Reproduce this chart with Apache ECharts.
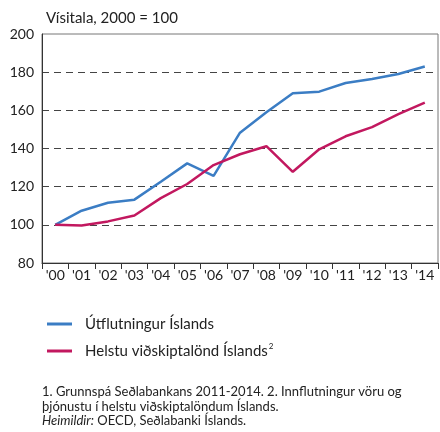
<!DOCTYPE html>
<html>
<head>
<meta charset="utf-8">
<script src="https://cdn.jsdelivr.net/npm/echarts@6/dist/echarts.min.js"></script>
<style>
  html, body { margin: 0; padding: 0; background: #fff; }
  #main { width: 440px; height: 432px; }
</style>
</head>
<body>
<div id="main"></div>
<script>
// ár og vísitölur lesnar af myndinni
var years = ["'00", "'01", "'02", "'03", "'04", "'05", "'06", "'07", "'08", "'09", "'10", "'11", "'12", "'13", "'14"];
var utflutningur = [100, 107.4, 111.6, 113.2, 122.6, 132.2, 125.7, 148.3, 159, 169, 169.8, 174.3, 176.4, 179, 183];
var vidskiptalond = [100, 99.6, 101.8, 104.9, 114, 121.4, 131.3, 137, 141.2, 127.8, 139.6, 146.4, 151.2, 158, 164];
var seriesNames = ['Útflutningur Íslands', 'Helstu viðskiptalönd Íslands'];

var font = 'Lato';
var textColor = '#222';

var myChart = echarts.init(document.getElementById('main'));

var option = {
    animation: false,
    textStyle: { fontFamily: font, color: textColor },
    title: {
        text: 'Vísitala, 2000 = 100',
        left: 41,
        top: 6,
        textStyle: { fontFamily: font, fontSize: 15, fontWeight: 'normal', color: textColor }
    },
    grid: {
        left: 42,
        right: 2,
        top: 34,
        bottom: 169,
        show: true,
        borderColor: '#777',
        borderWidth: 1
    },
    legend: {
        orient: 'vertical',
        left: 42,
        top: 310,
        icon: 'rect',
        itemWidth: 25,
        itemHeight: 3,
        itemGap: 9,
        textStyle: {
            fontFamily: font, fontSize: 15, color: textColor, padding: [0, 0, 0, 8], lineHeight: 18,
            rich: {
                t: { fontFamily: font, fontSize: 15, color: textColor, lineHeight: 18 },
                s: { fontFamily: font, fontSize: 8, color: textColor, verticalAlign: 'top', padding: [0, 0, 9, 1] }
            }
        },
        formatter: function (name) {
            if (name === seriesNames[1]) return '{t|' + name + '}{s|2}';
            return '{t|' + name + '}';
        }
    },
    xAxis: {
        type: 'category',
        data: years,
        boundaryGap: true,
        axisLine: { lineStyle: { color: '#333', width: 1 } },
        axisTick: { show: true, length: 6, lineStyle: { color: '#333' } },
        axisLabel: { interval: 0, fontFamily: font, fontSize: 14, color: textColor, margin: 5 }
    },
    yAxis: {
        type: 'value',
        min: 80,
        max: 200,
        interval: 20,
        axisLine: { show: true, lineStyle: { color: '#333', width: 1 } },
        axisTick: { show: false },
        axisLabel: { fontFamily: font, fontSize: 14, color: textColor, margin: 8 },
        splitLine: {
            show: true,
            showMinLine: false,
            showMaxLine: false,
            lineStyle: { color: '#444', type: [7, 5], width: 1 }
        }
    },
    series: [
        {
            name: seriesNames[0],
            type: 'line',
            data: utflutningur,
            symbol: 'none',
            lineStyle: { color: '#3b7dc4', width: 2.5 },
            itemStyle: { color: '#3b7dc4' }
        },
        {
            name: seriesNames[1],
            type: 'line',
            data: vidskiptalond,
            symbol: 'none',
            lineStyle: { color: '#c2185f', width: 2.5 },
            itemStyle: { color: '#c2185f' }
        }
    ],
    graphic: [
        {
            type: 'text',
            left: 42,
            top: 385,
            style: {
                text: '1. Grunnspá Seðlabankans 2011-2014. 2. Innflutningur vöru og\nþjónustu í helstu viðskiptalöndum Íslands.\n{i|Heimildir:} OECD, Seðlabanki Íslands.',
                font: '13px ' + font,
                fill: textColor,
                lineHeight: 14.5,
                rich: {
                    i: { fontStyle: 'italic', fontFamily: font, fontSize: 13, fill: textColor, lineHeight: 14.5 }
                }
            }
        }
    ]
};

myChart.setOption(option);
</script>
</body>
</html>
